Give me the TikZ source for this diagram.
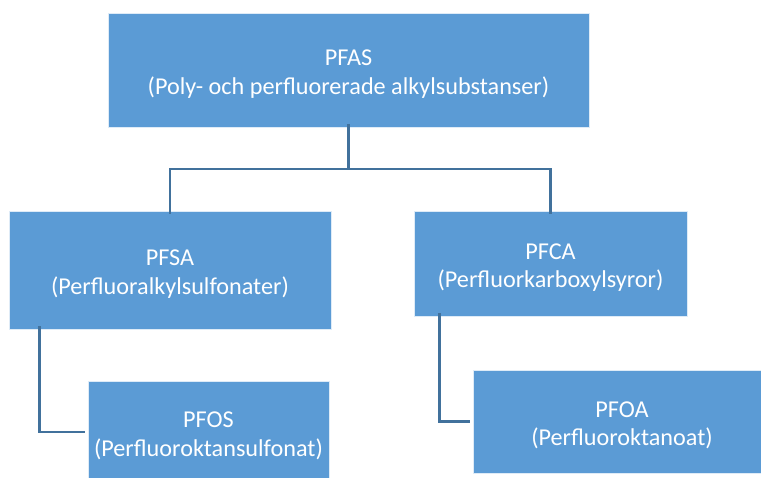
\documentclass[tikz,border=0pt]{standalone}
\usepackage{fontspec}
\setmainfont{Carlito}
\definecolor{boxblue}{HTML}{5B9BD5}
\definecolor{lineblue}{HTML}{41719C}
\begin{document}
\begin{tikzpicture}[x=1pt,y=-1pt,
  groupbox/.style={fill=boxblue,draw=white!80!boxblue,line width=0.6pt,inner sep=0pt},
  boxtext/.style={text=white,align=center,inner sep=0pt,yshift=-4pt,
    font=\fontsize{24.2}{28.5}\selectfont},
  link/.style={draw=lineblue,line width=2.6pt}]
  \useasboundingbox (0,0) rectangle (761,477);
  \node[groupbox,minimum width=481pt,minimum height=114pt] (pfas) at (348.5,70) {};
  \node[boxtext] (pfas text) at (pfas) {PFAS\\(Poly- och perfluorerade alkylsubstanser)};
  \node[groupbox,minimum width=322pt,minimum height=118pt] (pfsa) at (170,270) {};
  \node[boxtext] (pfsa text) at (pfsa) {PFSA\\(Perfluoralkylsulfonater)};
  \node[groupbox,minimum width=273pt,minimum height=105pt] (pfca) at (550.5,263.5) {};
  \node[boxtext] (pfca text) at (pfca) {PFCA\\(Perfluorkarboxylsyror)};
  \node[groupbox,minimum width=241pt,minimum height=102pt] (pfos) at (208.5,432) {};
  \node[boxtext] (pfos text) at (pfos) {PFOS\\(Perfluoroktansulfonat)};
  \node[groupbox,minimum width=298pt,minimum height=103pt] (pfoa) at (622,421.5) {};
  \node[boxtext] (pfoa text) at (pfoa) {PFOA\\(Perfluoroktanoat)};
  \coordinate (split) at (348.5,169);
  \draw[link] ([yshift=3pt]pfas.south) -- (split);
  \draw[link] ([yshift=-3pt]pfsa.north) |- (split) -| ([yshift=-3pt]pfca.north);
  \draw[link] ([xshift=31pt,yshift=3pt]pfsa.south west) |- ([xshift=-3pt]pfos.west);
  \draw[link] ([xshift=26pt,yshift=3pt]pfca.south west) |- ([xshift=-3pt]pfoa.west);
\end{tikzpicture}
\end{document}
